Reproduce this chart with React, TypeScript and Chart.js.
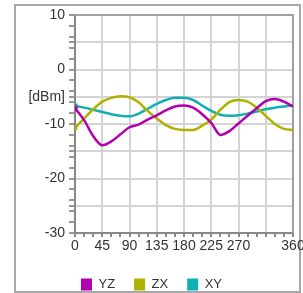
import React, { useEffect, useRef } from "react";
import { Chart, registerables } from "chart.js";

Chart.register(...registerables);

const ANGLES = [0, 15, 30, 45, 60, 75, 90, 105, 120, 135, 150, 165, 180, 195, 210, 225, 240, 255, 270, 285, 300, 315, 330, 345, 360];
const YZ = [-7.1, -9.3, -12.2, -13.9, -13.2, -11.9, -10.6, -10.1, -9.2, -8.4, -7.5, -6.8, -6.6, -7.0, -8.2, -9.8, -12.0, -11.3, -9.9, -8.5, -7.1, -5.8, -5.4, -5.9, -6.8];
const ZX = [-10.7, -9.0, -7.3, -5.9, -5.2, -4.9, -5.1, -6.0, -7.6, -9.0, -10.2, -10.9, -11.1, -11.1, -10.3, -9.2, -7.4, -6.0, -5.6, -5.9, -7.0, -8.5, -10.0, -10.9, -11.1];
const XY = [-6.7, -7.0, -7.4, -7.8, -8.2, -8.5, -8.6, -8.1, -7.2, -6.3, -5.6, -5.2, -5.2, -5.6, -6.6, -7.6, -8.3, -8.5, -8.4, -8.1, -7.7, -7.3, -7.0, -6.8, -6.5];
const SERIES_NAMES = ["YZ", "ZX", "XY"];
const SERIES_COLORS = ["#b000b0", "#b0b000", "#10b0b0"];

const X_TICKS = [0, 15, 30, 45, 60, 75, 90, 105, 120, 135, 150, 165, 180, 195, 210, 225, 240, 255, 270, 285, 300, 315, 330, 345, 360];
const X_LABELS: Record<number, string> = { 0: "0", 45: "45", 90: "90", 135: "135", 180: "180", 225: "225", 270: "270", 360: "360" };
const Y_TICKS = [10, 8, 6, 5, 4, 2, 0, -2, -4, -5, -6, -8, -10, -12, -14, -15, -16, -18, -20, -22, -24, -25, -26, -28, -30];
const Y_LABELS: Record<number, string> = { 10: "10", 0: "0", [-5]: "[dBm]", [-10]: "-10", [-20]: "-20", [-30]: "-30" };

const FONT = "'Liberation Sans', Arial, sans-serif";

const framePlugin = {
  id: "frames",
  beforeDraw(chart: any) {
    const ctx = chart.ctx;
    ctx.save();
    ctx.fillStyle = "#ffffff";
    ctx.fillRect(0, 0, chart.width, chart.height);
    ctx.strokeStyle = "#a8a8a8";
    ctx.lineWidth = 2;
    ctx.strokeRect(15, 5, 285, 287);
    ctx.restore();
  },
  beforeDatasetsDraw(chart: any) {
    const { ctx, chartArea } = chart;
    ctx.save();
    ctx.strokeStyle = "#a0a0a0";
    ctx.lineWidth = 2;
    ctx.beginPath();
    ctx.moveTo(chartArea.left, chartArea.top);
    ctx.lineTo(chartArea.right, chartArea.top);
    ctx.lineTo(chartArea.right, chartArea.bottom);
    ctx.stroke();
    ctx.restore();
  },
};

export default function App() {
  const ref = useRef<HTMLCanvasElement | null>(null);
  useEffect(() => {
    if (!ref.current) return;
    const seriesData = [YZ, ZX, XY];
    const chart = new Chart(ref.current, {
      type: "line",
      data: {
        datasets: seriesData.map((vals, i) => ({
          label: SERIES_NAMES[i],
          data: ANGLES.map((a, j) => ({ x: a, y: vals[j] })),
          borderColor: SERIES_COLORS[i],
          backgroundColor: SERIES_COLORS[i],
          borderWidth: 2.5,
          cubicInterpolationMode: "monotone",
          pointStyle: "rect",
          pointRadius: ANGLES.map((_, j) => (j === 0 ? 3.5 : 0)),
          pointBorderWidth: 0,
          fill: false,
        })),
      },
      options: {
        responsive: false,
        animation: false,
        devicePixelRatio: 1,
        layout: { padding: { top: 15, left: 0, right: 0, bottom: -8 } },
        plugins: {
          tooltip: { enabled: false },
          legend: {
            position: "bottom",
            align: "center",
            labels: {
              boxWidth: 11,
              boxHeight: 12,
              padding: 19,
              color: "#333333",
              font: { family: FONT, size: 13 },
              generateLabels: (c: any) =>
                c.data.datasets.map((ds: any, i: number) => ({
                  text: ds.label,
                  fillStyle: ds.borderColor,
                  strokeStyle: ds.borderColor,
                  lineWidth: 0,
                  hidden: false,
                  datasetIndex: i,
                  fontColor: "#333333",
                })),
            },
          },
        },
        scales: {
          x: {
            type: "linear",
            min: 0,
            max: 360,
            afterBuildTicks: (s: any) => {
              s.ticks = X_TICKS.map((v) => ({ value: v }));
            },
            afterFit: (s: any) => {
              s.height = 26;
              s.paddingRight = 10;
            },
            ticks: {
              autoSkip: false,
              maxRotation: 0,
              padding: 1,
              color: "#333333",
              font: { family: FONT, size: 14 },
              callback: (v: any) => X_LABELS[v as number] ?? "",
            },
            grid: {
              color: (c: any) => (c.tick && c.tick.value % 45 === 0 ? "#d4d4d4" : "rgba(0,0,0,0)"),
              tickColor: "#888888",
              lineWidth: 2,
              tickLength: 4,
            },
            border: { color: "#888888", width: 2 },
          },
          y: {
            min: -30,
            max: 10,
            afterBuildTicks: (s: any) => {
              s.ticks = Y_TICKS.map((v) => ({ value: v }));
            },
            afterFit: (s: any) => {
              s.width = 75;
            },
            ticks: {
              autoSkip: false,
              padding: 4,
              color: "#333333",
              font: { family: FONT, size: 14 },
              callback: (v: any) => Y_LABELS[v as number] ?? "",
            },
            grid: {
              color: (c: any) => (c.tick && c.tick.value % 5 === 0 ? "#d4d4d4" : "rgba(0,0,0,0)"),
              tickColor: "#999999",
              lineWidth: 2,
              tickLength: 6,
            },
            border: { color: "#888888", width: 2 },
          },
        },
      },
      plugins: [framePlugin],
    } as any);
    return () => chart.destroy();
  }, []);
  return (
    <div style={{ position: "absolute", left: 0, top: 0, width: 303, height: 293 }}>
      <canvas ref={ref} width={303} height={293} style={{ display: "block" }} />
    </div>
  );
}
